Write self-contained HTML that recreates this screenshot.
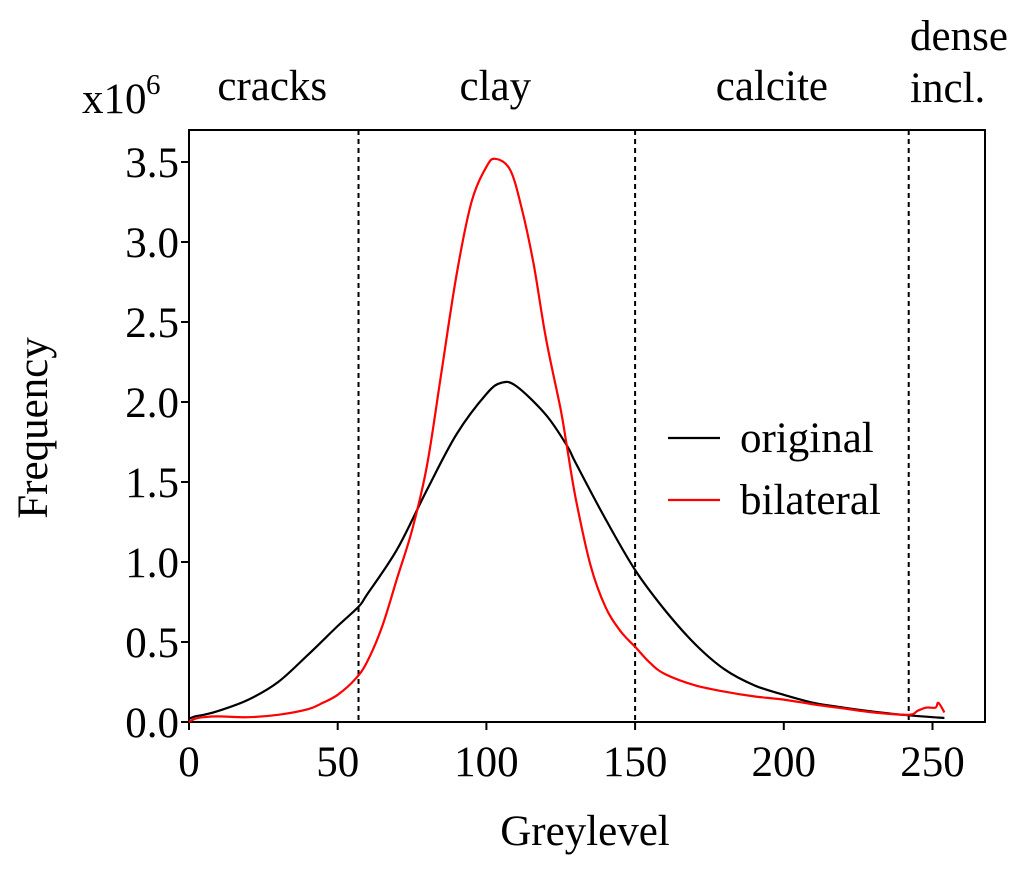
<!DOCTYPE html>
<html><head><meta charset="utf-8"><style>
body{margin:0;background:#fff}
svg text{font-family:"Liberation Serif",serif;fill:#000}
</style></head><body>
<svg width="1033" height="874">
<g id="plot"></g>
</svg>
<script>
const xs=[0,2,5,10,20,30,40,50,57,60,70,80,90,100,105,110,120,127,130,140,150,160,170,180,190,200,210,220,230,240,254];
const original=[0.02,0.035,0.045,0.07,0.14,0.25,0.42,0.6,0.72,0.8,1.08,1.45,1.8,2.05,2.12,2.1,1.92,1.73,1.62,1.27,0.95,0.7,0.49,0.33,0.23,0.17,0.12,0.09,0.065,0.045,0.025];
const xr=[0,2,5,10,20,30,40,45,50,56,60,65,70,75,80,85,90,95,100,103,108,112,116,120,125,127,130,135,140,145,150,155,160,170,180,190,200,210,220,230,242,245,248,251,252,254];
const bilateral=[0,0.02,0.03,0.035,0.03,0.045,0.08,0.12,0.17,0.27,0.38,0.6,0.9,1.2,1.6,2.2,2.8,3.25,3.47,3.52,3.45,3.2,2.85,2.4,1.95,1.73,1.4,0.98,0.72,0.57,0.47,0.37,0.3,0.23,0.19,0.16,0.14,0.11,0.085,0.06,0.045,0.07,0.09,0.09,0.12,0.06];
const xticks=[0,50,100,150,200,250];
const yticks=["0.0","0.5","1.0","1.5","2.0","2.5","3.0","3.5"];
const bounds=[57,150,242];
const regions=[["cracks",28],["clay",103],["calcite",196]];
const L=189,R=985,T=130,B=722;
const X=v=>L+v*2.974, Y=v=>B-v*160;
const g=document.getElementById('plot');const NS="http://www.w3.org/2000/svg";
function el(t,a,txt){const e=document.createElementNS(NS,t);for(const k in a)e.setAttribute(k,a[k]);if(txt!=null)e.textContent=txt;g.appendChild(e);return e;}
let e=el('rect',{x:L,y:T,width:R-L,height:B-T,fill:'none',stroke:'#000','stroke-width':2});


xticks.forEach(v=>{el('line',{x1:X(v),x2:X(v),y1:B,y2:B+8,stroke:'#000','stroke-width':2});
 e=el('text',{x:X(v),y:B+54,'font-size':43,'text-anchor':'middle'},v);
 
 });
yticks.forEach(v=>{const y=Y(+v);el('line',{x1:L-8,x2:L,y1:y,y2:y,stroke:'#000','stroke-width':2});
 e=el('text',{x:L-10,y:y+15,'font-size':43,'text-anchor':'end'},v);
 
 });
bounds.forEach(v=>{e=el('line',{x1:X(v),x2:X(v),y1:T,y2:B,stroke:'#000','stroke-width':2,'stroke-dasharray':'5,4'});
 
 });
function path(xa,ya,c,n){const p=xa.map((x,i)=>[X(x),Y(ya[i])]);let d='M'+p[0][0]+','+p[0][1];
 for(let i=0;i<p.length-1;i++){const p0=p[Math.max(0,i-1)],p1=p[i],p2=p[i+1],p3=p[Math.min(p.length-1,i+2)];
  const c1=[p1[0]+(p2[0]-p0[0])/6,p1[1]+(p2[1]-p0[1])/6],c2=[p2[0]-(p3[0]-p1[0])/6,p2[1]-(p3[1]-p1[1])/6];
  d+='C'+c1[0].toFixed(1)+','+c1[1].toFixed(1)+' '+c2[0].toFixed(1)+','+c2[1].toFixed(1)+' '+p2[0].toFixed(1)+','+p2[1].toFixed(1);}
 e=el('path',{d:d,fill:'none',stroke:c,'stroke-width':2.2,'stroke-linejoin':'round'});
 
 }
path(xs,original,'#000','original-line');
path(xr,bilateral,'#f00','bilateral-line');
regions.forEach(r=>{e=el('text',{x:X(r[1]),y:100,'font-size':43,'text-anchor':'middle'},r[0]);
 
 });
e=el('text',{x:910,y:50,'font-size':43},'dense');
e=el('text',{x:910,y:102,'font-size':43},'incl.');
e=el('text',{x:82,y:113,'font-size':43},'x10');
el('text',{x:146,y:94,'font-size':29},'6');
e=el('text',{x:585,y:845,'font-size':43,'text-anchor':'middle'},'Greylevel');
e=el('text',{x:0,y:0,'font-size':43,'text-anchor':'middle',transform:'translate(47,428) rotate(-90)'},'Frequency');
[['original','#000',438],['bilateral','#f00',500]].forEach(l=>{el('line',{x1:668,x2:720,y1:l[2],y2:l[2],stroke:l[1],'stroke-width':2.2});
 e=el('text',{x:740,y:l[2]+14,'font-size':43},l[0]);
 
 });
</script>
</body></html>
